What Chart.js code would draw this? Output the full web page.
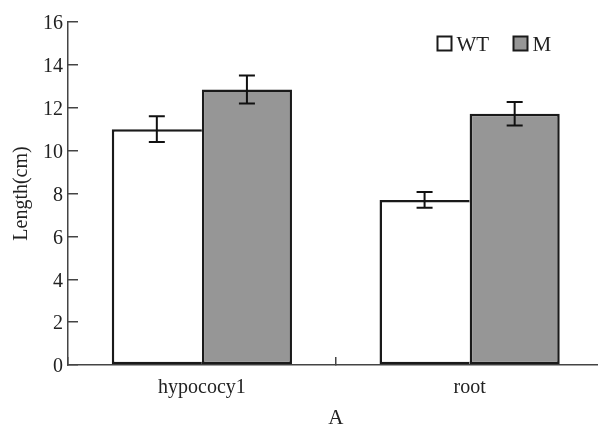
<!DOCTYPE html>
<html>
<head>
<meta charset="utf-8">
<script src="https://cdn.jsdelivr.net/npm/chart.js@4.4.1/dist/chart.umd.min.js"></script>
<style>
html, body { margin: 0; padding: 0; background: #fff; overflow: hidden; }
#wrap { width: 606px; height: 440px; }
</style>
</head>
<body>
<div id="wrap"><canvas id="myChart"></canvas></div>
<script>
// data
var categories = ['hypococy1', 'root']
var seriesNames = ['WT', 'M']
var wtValues = [11.0, 7.7]
var wtErrors = [0.6, 0.37]
var mValues = [12.85, 11.72]
var mErrors = [0.65, 0.55]
var yTicks = [0, 2, 4, 6, 8, 10, 12, 14, 16]

var serif = 'Liberation Serif'
var ink = '#222'
var axisColor = '#444'

// error bars, drawn at each bar's own x
var errorBars = {
    id: 'errorBars',
    afterDatasetsDraw: function(chart){
        var ctx = chart.ctx
        var y = chart.scales.y
        ctx.save()
        ctx.strokeStyle = '#111'
        ctx.lineWidth = 2
        chart.data.datasets.forEach(function(ds, i){
            var meta = chart.getDatasetMeta(i)
            meta.data.forEach(function(bar, j){
                var top = y.getPixelForValue(ds.data[j] + ds.errors[j])
                var bot = y.getPixelForValue(ds.data[j] - ds.errors[j])
                ctx.beginPath()
                ctx.moveTo(bar.x, top); ctx.lineTo(bar.x, bot)
                ctx.moveTo(bar.x - 8, top); ctx.lineTo(bar.x + 8, top)
                ctx.moveTo(bar.x - 8, bot); ctx.lineTo(bar.x + 8, bot)
                ctx.stroke()
            })
        })
        ctx.restore()
    }
}

// legend inside the plot, top right
var boxLegend = {
    id: 'boxLegend',
    afterDraw: function(chart){
        var ctx = chart.ctx
        var spots = [437.5, 513.5]
        ctx.save()
        ctx.font = '21px "' + serif + '"'
        ctx.textBaseline = 'alphabetic'
        chart.data.datasets.forEach(function(ds, i){
            var x = spots[i]
            ctx.fillStyle = ds.backgroundColor
            ctx.fillRect(x, 36.5, 14, 14)
            ctx.strokeStyle = '#1a1a1a'
            ctx.lineWidth = 2
            ctx.strokeRect(x, 36.5, 14, 14)
            ctx.fillStyle = ink
            ctx.fillText(ds.label, x + 19, 51)
        })
        ctx.restore()
    }
}

var ctx = document.querySelector('#myChart').getContext('2d')
var myChart = new Chart(ctx, {
    type: 'bar',
    data: {
        labels: categories,
        datasets: [{
            label: seriesNames[0],
            data: wtValues,
            errors: wtErrors,
            backgroundColor: '#ffffff',
            borderColor: '#1a1a1a',
            // the grey bar's left edge is the shared divider
            borderWidth: { top: 2.5, left: 2.5, bottom: 2.5, right: 0 },
            borderSkipped: false
        }, {
            label: seriesNames[1],
            data: mValues,
            errors: mErrors,
            backgroundColor: '#969696',
            borderColor: '#1a1a1a',
            borderWidth: 2.5,
            borderSkipped: false
        }]
    },
    options: {
        responsive: true,
        maintainAspectRatio: false,
        animation: false,
        layout: { padding: { top: 22, right: 2.5, left: 0, bottom: 0 } },
        datasets: { bar: { barPercentage: 1, categoryPercentage: 0.673 } },
        plugins: {
            legend: { display: false },
            tooltip: { enabled: false }
        },
        scales: {
            x: {
                grid: { offset: true, drawOnChartArea: false, tickLength: -8, color: axisColor, lineWidth: 1.5 },
                border: { color: axisColor, width: 1.5 },
                ticks: { color: ink, font: { family: serif, size: 20 }, padding: 19 },
                title: { display: true, text: 'A', color: ink, font: { family: serif, size: 21 }, padding: { top: 0, bottom: 9 } },
                afterFit: function(scale){ scale.height = 75 }
            },
            y: {
                min: 0,
                max: 16,
                afterBuildTicks: function(scale){ scale.ticks = yTicks.map(function(v){ return { value: v } }) },
                grid: { drawOnChartArea: false, tickLength: -10, color: axisColor, lineWidth: 1.5 },
                border: { color: axisColor, width: 1.5 },
                ticks: { color: ink, font: { family: serif, size: 20 }, padding: 15, labelOffset: 2 },
                title: { display: true, text: 'Length(cm)', color: ink, font: { family: serif, size: 20 }, padding: { top: 10, bottom: 0 } },
                afterFit: function(scale){
                    scale.width = 68
                    scale.paddingTop = 10
                    scale.paddingBottom = 0
                }
            }
        }
    },
    plugins: [errorBars, boxLegend]
})
</script>
</body>
</html>
